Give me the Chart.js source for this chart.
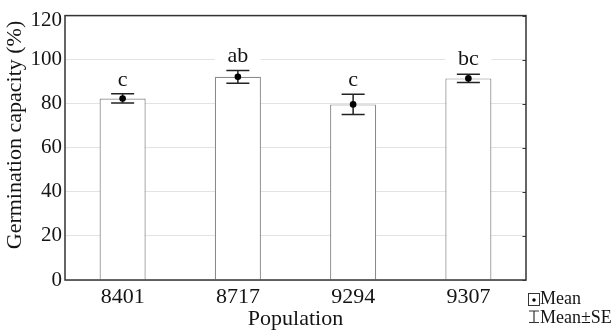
<!DOCTYPE html>
<html>
<head>
<meta charset="utf-8">
<script src="https://cdn.jsdelivr.net/npm/chart.js@4/dist/chart.umd.min.js"></script>
<style>
  html, body { margin: 0; padding: 0; background: #ffffff; }
  #wrap { width: 614px; height: 330px; position: relative; }
</style>
</head>
<body>
<div id="wrap"><canvas id="c" width="614" height="330"></canvas></div>
<script>
const categories = ['8401', '8717', '9294', '9307'];
const means = [82.4, 92.2, 79.7, 91.5];
const se = [2.1, 2.85, 4.6, 1.9];
const groupLetters = ['c', 'ab', 'c', 'bc'];
const yTicks = [0, 20, 40, 60, 80, 100, 120];
const yTitle = 'Germination capacity (%)';
const xTitle = 'Population';

const FONT = '"Liberation Serif", "Times New Roman", serif';
const TEXT = '#141414';

const extrasPlugin = {
  id: 'extras',
  afterDatasetDraw(chart, args) {
    if (args.index !== 0) return;
    const ctx = chart.ctx;
    const y = chart.scales.y;
    const meta = chart.getDatasetMeta(0);
    ctx.save();
    ctx.strokeStyle = '#222';
    ctx.lineWidth = 1.5;
    means.forEach((m, i) => {
      const bar = meta.data[i];
      const cx = bar.x;
      const half = bar.width / 4;
      const yt = y.getPixelForValue(m + se[i]);
      const yb = y.getPixelForValue(m - se[i]);
      ctx.beginPath();
      ctx.moveTo(cx, yt); ctx.lineTo(cx, yb);
      ctx.moveTo(cx - half, yt); ctx.lineTo(cx + half, yt);
      ctx.moveTo(cx - half, yb); ctx.lineTo(cx + half, yb);
      ctx.stroke();
    });
    ctx.restore();
  },
  afterDatasetsDraw(chart) {
    const ctx = chart.ctx;
    const y = chart.scales.y;
    const meta = chart.getDatasetMeta(0);
    ctx.save();
    ctx.font = '22px ' + FONT;
    ctx.textAlign = 'center';
    ctx.textBaseline = 'alphabetic';
    groupLetters.forEach((t, i) => {
      const bar = meta.data[i];
      const gap = t.length > 1 ? 9 : 8;
      const base = y.getPixelForValue(means[i] + se[i]) - gap;
      ctx.fillStyle = '#ffffff';
      ctx.fillRect(bar.x - bar.width / 2, base - 17, bar.width, 21);
      ctx.fillStyle = TEXT;
      ctx.fillText(t, bar.x, base);
    });
    ctx.restore();
  },
  afterDraw(chart) {
    const ctx = chart.ctx;
    const a = chart.chartArea;
    const y = chart.scales.y;
    ctx.save();
    // frame
    ctx.strokeStyle = '#333';
    ctx.lineWidth = 1.5;
    ctx.strokeRect(a.left, a.top, a.right - a.left, a.bottom - a.top);
    // inward ticks on right side
    ctx.lineWidth = 1.2;
    ctx.beginPath();
    yTicks.forEach(v => {
      const py = Math.round(y.getPixelForValue(v)) + 0.5;
      ctx.moveTo(a.right - 3.5, py); ctx.lineTo(a.right, py);
    });
    ctx.stroke();
    // top tick label, nudged inside like the original
    ctx.fillStyle = TEXT;
    ctx.font = '21px ' + FONT;
    ctx.textAlign = 'right';
    ctx.textBaseline = 'middle';
    const topVal = yTicks[yTicks.length - 1];
    ctx.fillText(String(topVal), a.left - 3, y.getPixelForValue(topVal) + 4.5);
    // y title
    ctx.save();
    ctx.translate(15.5, 135);
    ctx.rotate(-Math.PI / 2);
    ctx.font = '22px ' + FONT;
    ctx.textAlign = 'center';
    ctx.textBaseline = 'middle';
    ctx.fillText(yTitle, 0, 0);
    ctx.restore();
    // legend
    const lx = 528.5, ly = 293.5;
    ctx.lineWidth = 1;
    ctx.strokeStyle = '#333';
    ctx.strokeRect(lx, ly, 11, 12);
    ctx.fillStyle = '#000';
    ctx.beginPath(); ctx.arc(lx + 5.5, ly + 6.5, 1.7, 0, Math.PI * 2); ctx.fill();
    ctx.lineWidth = 1.2;
    ctx.beginPath();
    const ex = lx + 5.5, et = 311, eb = 322.5;
    ctx.moveTo(ex, et); ctx.lineTo(ex, eb);
    ctx.moveTo(ex - 5, et); ctx.lineTo(ex + 5, et);
    ctx.moveTo(ex - 5, eb); ctx.lineTo(ex + 5, eb);
    ctx.stroke();
    ctx.fillStyle = TEXT;
    ctx.font = '18px ' + FONT;
    ctx.textAlign = 'left';
    ctx.textBaseline = 'alphabetic';
    ctx.fillText('Mean', 540, 304);
    ctx.fillText('Mean\u00B1SE', 540, 323);
    ctx.restore();
  }
};

new Chart(document.getElementById('c'), {
  data: {
    labels: categories,
    datasets: [
      {
        type: 'bar',
        data: means,
        backgroundColor: '#ffffff',
        borderColor: '#8a8a8a',
        borderWidth: 1.2,
        barPercentage: 0.4,
        categoryPercentage: 1.0,
        order: 2
      },
      {
        type: 'line',
        data: means,
        showLine: false,
        pointRadius: 3.3,
        pointBackgroundColor: '#000',
        pointBorderColor: '#000',
        pointBorderWidth: 0,
        order: 1
      }
    ]
  },
  options: {
    responsive: false,
    animation: false,
    devicePixelRatio: 1,
    layout: { padding: { top: 12, right: 88, bottom: 0, left: 0 } },
    plugins: { legend: { display: false }, tooltip: { enabled: false } },
    scales: {
      x: {
        type: 'category',
        offset: true,
        grid: { display: false, drawTicks: false },
        border: { display: false },
        ticks: { color: TEXT, font: { family: FONT, size: 22 }, padding: 4 },
        title: { display: true, text: xTitle, color: TEXT,
                 font: { family: FONT, size: 22, lineHeight: 1.0 }, padding: { top: 0, bottom: 0 } },
        afterFit(s) { s.height = 50; }
      },
      y: {
        min: 0, max: 120,
        afterBuildTicks(s) { s.ticks = yTicks.map(v => ({ value: v })); },
        grid: { color: '#e3e3e3', lineWidth: 1, drawTicks: false },
        border: { display: false },
        ticks: {
          color: TEXT, font: { family: FONT, size: 21 }, padding: 3,
          callback: (v) => (v === yTicks[yTicks.length - 1] ? '' : String(v))
        },
        title: { display: false },
        afterFit(s) { s.width = 65; }
      }
    }
  },
  plugins: [extrasPlugin]
});
</script>
</body>
</html>
